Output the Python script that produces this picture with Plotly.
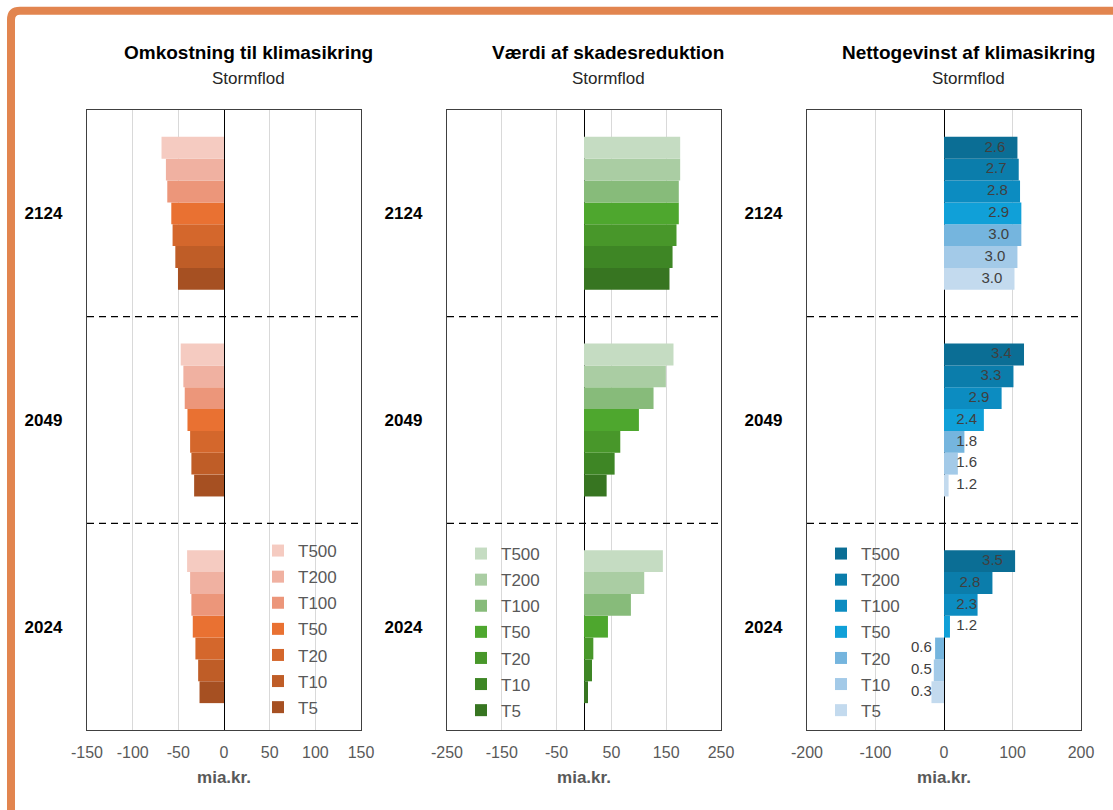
import plotly.graph_objects as go

years = ["2024", "2049", "2124"]
return_periods = ["T5", "T10", "T20", "T50", "T100", "T200", "T500"]

# Omkostning til klimasikring (mia.kr.), order T5..T500
cost_2024 = [-26.8, -28.3, -31.3, -34.2, -35.7, -37.1, -40.4]
cost_2049 = [-32.7, -35.7, -37.1, -40.0, -43.0, -44.5, -47.4]
cost_2124 = [-50.4, -53.3, -56.3, -57.7, -62.1, -63.6, -68.4]

# Værdi af skadesreduktion (mia.kr.)
value_2024 = [7.3, 14.6, 17.0, 43.7, 85.6, 109.9, 143.9]
value_2049 = [41.3, 55.9, 66.2, 100.2, 126.9, 149.4, 163.3]
value_2124 = [156.0, 161.6, 168.8, 173.0, 173.0, 175.5, 175.5]

# Nettogevinst af klimasikring (mia.kr.)
net_2024 = [-18.3, -14.9, -13.0, 8.7, 49.0, 70.7, 103.8]
net_2049 = [6.7, 20.2, 29.8, 58.2, 84.1, 101.4, 116.8]
net_2124 = [102.9, 107.2, 112.9, 112.9, 111.0, 109.1, 107.2]

# Data labels on net bars
ratio_2024 = ["0.3", "0.5", "0.6", "1.2", "2.3", "2.8", "3.5"]
ratio_2049 = ["1.2", "1.6", "1.8", "2.4", "2.9", "3.3", "3.4"]
ratio_2124 = ["3.0", "3.0", "3.0", "2.9", "2.8", "2.7", "2.6"]

# x tick values / labels per panel
ticks_cost = [-150, -100, -50, 0, 50, 100, 150]
ticks_value = [-250, -150, -50, 50, 150, 250]
ticks_net = [-200, -100, 0, 100, 200]

orange = ["#A65022", "#BF5D27", "#D4672C", "#E97132", "#EC967A", "#F0B1A1", "#F5CBC1"]
green = ["#377521", "#3E8625", "#48972A", "#4EA72E", "#87BB7A", "#AACDA3", "#C5DCC2"]
blue = ["#C3DAEE", "#A3CAE8", "#75B5DE", "#10A0D8", "#0C8CC1", "#0B7DAB", "#0B6E95"]

W, H = 1113, 810
FONT = "Liberation Sans, Arial, sans-serif"


def px_x(p):
    return p / W


def px_y(p):
    return 1 - p / H


fig = go.Figure()

panels = [
    ("x", "y", "legend", [cost_2024, cost_2049, cost_2124], orange),
    ("x2", "y2", "legend2", [value_2024, value_2049, value_2124], green),
    ("x3", "y3", "legend3", [net_2024, net_2049, net_2124], blue),
]

n = len(return_periods)
for xa, ya, lg, series, cols in panels:
    for i, rp in enumerate(return_periods):
        fig.add_trace(go.Bar(
            x=[series[0][i], series[1][i], series[2][i]],
            y=years,
            orientation="h",
            name=rp,
            marker=dict(color=cols[i], line=dict(width=0)),
            xaxis=xa, yaxis=ya, legend=lg,
            legendgroup=lg + rp,
            legendrank=n - i,
            hoverinfo="x+name",
        ))

# labels for net panel
for i, rp in enumerate(return_periods):
    vals = [net_2024[i], net_2049[i], net_2124[i]]
    pos = [(1 if v >= 0 else -1) * max(abs(v) - 33, 33) for v in vals]
    fig.add_trace(go.Scatter(
        x=pos, y=years, mode="text", orientation="h",
        text=[ratio_2024[i], ratio_2049[i], ratio_2124[i]],
        textposition="middle center",
        textfont=dict(size=15, color="#404040", family=FONT),
        xaxis="x3", yaxis="y3", showlegend=False, hoverinfo="skip",
    ))

box_x = [(87, 361), (447, 721), (807, 1081)]
ydom = [px_y(730), px_y(110)]
ranges = [(-150, 150), (-250, 250), (-200, 200)]
tickvals = [ticks_cost, ticks_value, ticks_net]

layout = dict(
    width=W, height=H,
    margin=dict(l=0, r=0, t=0, b=0, autoexpand=False),
    paper_bgcolor="white", plot_bgcolor="white",
    barmode="group", bargap=0.26, bargroupgap=0,
    scattermode="group", scattergap=0.26,
    font=dict(family=FONT, color="#595959"),
    showlegend=True,
)

suffix = ["", "2", "3"]
for k in range(3):
    s = suffix[k]
    x0, x1 = box_x[k]
    r0, r1 = ranges[k]
    layout["xaxis" + s] = dict(
        domain=[px_x(x0), px_x(x1)], anchor="y" + s,
        range=[r0, r1], tickmode="array",
        tickvals=tickvals[k], ticktext=[str(t) for t in tickvals[k]],
        showgrid=True, gridcolor="#D9D9D9", gridwidth=1,
        zeroline=True, zerolinecolor="#000000", zerolinewidth=1.3,
        showline=True, mirror=True, linecolor="#404040", linewidth=1.3,
        ticks="", ticklabelstandoff=8,
        tickfont=dict(size=16, color="#595959"),
        title=dict(text="<b>mia.kr.</b>", font=dict(size=17, color="#595959"), standoff=10),
        automargin=False, fixedrange=True,
    )
    layout["yaxis" + s] = dict(
        domain=ydom, anchor="x" + s,
        type="category", categoryorder="array", categoryarray=years,
        range=[-0.5, 2.5],
        showgrid=False, zeroline=False,
        showline=True, mirror=True, linecolor="#404040", linewidth=1.3,
        ticks="", ticklabelstandoff=20,
        tickfont=dict(size=17, color="#000000", family=FONT),
        tickprefix="<b>", ticksuffix="</b>",
        automargin=False, fixedrange=True,
    )

legend_left = [258, 461, 821]
legend_top = [533, 536, 536]
for k in range(3):
    key = "legend" if k == 0 else "legend" + suffix[k]
    layout[key] = dict(
        x=px_x(legend_left[k]), xanchor="left",
        y=px_y(legend_top[k]), yanchor="top",
        traceorder="grouped", tracegroupgap=1.0,
        font=dict(size=17, color="#595959", family=FONT),
        bgcolor="rgba(0,0,0,0)", borderwidth=0,
    )

fig.update_layout(**layout)

titles = ["Omkostning til klimasikring", "Værdi af skadesreduktion", "Nettogevinst af klimasikring"]
annotations = []
for k in range(3):
    cx = (box_x[k][0] + box_x[k][1]) / 2 + 24
    annotations.append(dict(
        x=px_x(cx), y=px_y(52), xref="paper", yref="paper",
        text="<b>" + titles[k] + "</b>", showarrow=False,
        font=dict(size=19, color="#000000", family=FONT),
        xanchor="center", yanchor="middle",
    ))
    annotations.append(dict(
        x=px_x(cx), y=px_y(78), xref="paper", yref="paper",
        text="Stormflod", showarrow=False,
        font=dict(size=17, color="#262626", family=FONT),
        xanchor="center", yanchor="middle",
    ))
fig.update_layout(annotations=annotations)

shapes = []
for k in range(3):
    s = suffix[k]
    for yb in (0.5, 1.5):
        shapes.append(dict(
            type="line", xref="x" + s + " domain", yref="y" + s,
            x0=0, x1=1, y0=yb, y1=yb,
            line=dict(color="#000000", width=1.3, dash="7px,5px"),
        ))

# outer orange frame (top and left edges visible)
bx, by, rad = 11, 10.7, 9
path = (f"M {px_x(bx)},{px_y(H + 40)} L {px_x(bx)},{px_y(by + rad)} "
        f"Q {px_x(bx)},{px_y(by)} {px_x(bx + rad)},{px_y(by)} "
        f"L {px_x(W + 40)},{px_y(by)}")
shapes.append(dict(type="path", xref="paper", yref="paper", path=path,
                   line=dict(color="#E2854F", width=8)))
fig.update_layout(shapes=shapes)

fig.write_html("out.html", config={"displayModeBar": False},
               post_script="document.body.style.margin='0';")
